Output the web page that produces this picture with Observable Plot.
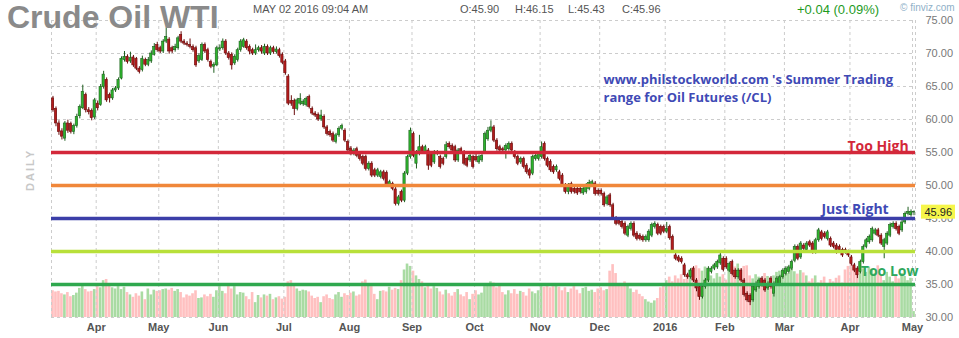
<!DOCTYPE html>
<html><head><meta charset="utf-8">
<script src="https://cdn.jsdelivr.net/npm/d3@7"></script>
<script src="https://cdn.jsdelivr.net/npm/@observablehq/plot@0.6"></script>
<style>
html,body{margin:0;padding:0;background:#fff;}
#wrap{position:relative;width:959px;height:338px;overflow:hidden;background:#fff;}
#wrap svg{position:absolute;left:0;top:0;}
</style></head><body><div id="wrap"></div>
<script>
// ---- data (daily candles, index 0 = mid-March 2015, last = May 02 2016) ----
const openP = [
63.2,61.6,59.4,58.2,57.1,59.4,59.3,58.1,59.0,60.5,
61.7,63.7,61.4,61.3,60.3,62.4,62.2,64.9,66.0,63.7,
63.2,64.4,64.7,66.2,69.0,69.5,68.8,69.4,69.2,67.7,
67.5,69.0,68.3,68.8,69.8,71.3,70.8,70.3,71.8,72.1,
70.8,70.5,70.8,72.8,71.8,71.5,71.3,71.0,70.8,68.8,
69.0,71.3,70.5,68.7,68.0,68.2,70.6,70.8,71.8,70.0,
69.8,68.5,69.0,70.5,71.0,71.8,71.0,70.5,70.0,70.5,
70.8,70.0,71.0,70.0,70.8,70.2,70.5,69.8,68.8,66.5,
62.8,62.8,61.6,62.4,62.3,62.2,63.4,61.6,60.9,60.7,
60.0,60.4,58.8,58.1,57.8,56.6,57.6,58.6,58.3,56.6,
55.6,54.8,55.5,54.8,54.3,54.3,52.5,53.3,52.3,51.5,
51.3,52.0,51.9,50.0,50.2,49.4,47.2,49.0,47.7,51.8,
54.3,57.8,53.3,54.8,55.8,55.0,55.3,54.8,53.5,54.8,
54.3,54.0,54.3,56.3,56.0,55.8,53.8,55.5,55.0,54.0,
53.8,54.3,54.3,53.5,53.8,55.0,57.0,58.3,58.8,56.8,
55.8,55.5,55.3,55.5,56.3,55.0,54.3,53.5,54.0,53.0,
52.3,51.8,54.0,54.0,54.3,56.3,54.0,53.6,52.8,52.3,
52.0,51.5,50.0,49.0,50.2,49.5,49.5,49.5,48.8,49.0,
49.5,50.0,50.3,49.2,49.2,48.7,47.2,48.5,47.0,45.0,
44.7,44.5,44.2,42.4,43.4,44.2,42.7,42.4,42.2,41.7,
41.7,42.4,43.7,44.0,43.7,43.7,43.0,43.7,42.2,39.4,
39.1,38.9,37.9,36.4,36.1,37.4,35.6,34.6,33.1,34.6,
35.6,36.9,37.4,37.6,38.2,38.9,38.9,37.1,38.4,37.1,
36.1,37.1,35.6,33.6,33.3,32.6,34.1,34.6,35.9,35.6,
34.4,35.9,33.6,35.1,35.1,36.1,36.6,36.9,37.4,38.6,
40.7,39.1,40.9,40.2,41.4,41.2,39.9,41.7,42.9,42.7,
41.9,41.9,41.2,40.9,40.7,40.2,40.2,39.9,39.1,37.9,
37.4,36.9,38.4,40.7,41.4,41.7,42.7,43.2,42.4,40.7,
41.2,42.4,43.7,44.2,43.7,43.2,44.4,45.7,45.5,45.90];
const highP = [
63.5,61.9,59.8,58.6,59.7,59.9,59.6,59.3,60.8,62.2,
65.2,64.0,61.8,61.6,63.2,62.8,65.3,67.3,66.3,64.0,
64.7,65.0,66.3,69.5,70.3,69.8,70.2,69.7,69.4,68.0,
69.6,69.3,69.4,70.4,71.5,71.7,71.1,72.1,73.8,72.4,
71.1,71.4,72.6,73.3,72.1,71.8,72.2,71.3,71.1,70.0,
71.6,71.6,70.8,69.0,68.6,71.1,71.3,72.2,72.1,70.3,
70.1,69.8,70.8,72.1,72.3,72.1,71.3,70.8,71.3,71.1,
71.2,71.4,71.3,71.1,71.1,71.0,70.8,70.1,69.1,66.8,
63.6,63.1,63.2,63.9,63.0,63.4,63.7,61.9,61.2,61.0,
61.4,60.7,59.1,58.4,58.1,57.9,58.9,59.3,58.6,56.9,
55.9,55.6,55.8,55.1,54.6,54.6,53.6,53.6,52.6,52.6,
52.3,52.3,52.2,50.8,50.5,49.7,48.5,49.3,52.1,54.6,
58.7,58.1,55.3,57.6,56.1,56.1,55.6,55.1,55.3,55.3,
54.6,54.3,56.6,56.6,56.3,56.1,55.6,55.8,55.3,54.3,
54.8,54.6,55.0,54.6,54.8,58.1,58.8,59.8,59.1,57.1,
56.1,55.8,56.3,56.6,56.6,55.3,54.6,54.3,54.3,53.3,
52.6,54.6,54.8,55.1,56.6,56.6,54.3,53.9,53.1,53.1,
52.3,51.8,50.3,50.3,50.5,49.8,49.8,49.8,49.8,50.3,
50.8,50.8,50.6,49.5,49.5,49.0,48.5,48.8,47.3,45.3,
45.0,44.8,44.5,44.0,44.5,44.5,43.0,42.7,42.5,42.5,
43.3,44.3,44.5,44.3,44.0,44.0,44.4,44.0,42.5,39.7,
39.4,39.2,38.2,36.7,37.4,37.7,35.9,34.9,34.9,35.9,
37.7,37.7,38.2,38.7,39.9,39.2,39.2,38.4,38.7,37.4,
37.4,37.4,35.9,33.9,33.6,34.9,35.4,35.9,36.2,35.9,
35.4,36.2,35.4,36.2,36.4,37.4,37.7,37.9,38.7,41.0,
41.0,41.5,41.2,41.5,41.7,41.5,42.0,43.5,43.2,43.0,
43.2,42.2,41.5,41.2,41.0,40.5,40.5,40.2,39.4,38.2,
37.7,38.7,41.0,42.0,42.5,43.7,43.5,43.5,42.7,42.0,
43.0,44.3,44.5,44.5,44.0,44.7,46.0,46.7,46.3,46.15];
const lowP = [
61.1,58.9,57.6,56.9,56.7,57.9,57.8,57.7,58.7,60.1,
61.5,61.0,60.7,59.8,60.0,61.3,62.0,64.6,62.6,62.5,
62.9,64.1,64.4,66.0,68.7,68.4,68.5,67.9,67.4,66.9,
67.2,68.0,68.0,68.5,69.6,70.2,70.0,70.0,71.5,69.9,
70.0,70.2,70.5,71.5,71.2,71.0,70.7,70.2,67.9,68.5,
68.8,70.0,68.7,67.7,67.0,68.0,70.3,70.5,69.7,69.0,
67.5,68.2,68.7,70.2,70.8,70.5,69.8,69.7,69.7,70.2,
69.9,69.7,69.7,69.7,69.9,69.9,69.3,68.3,66.7,62.1,
62.0,60.6,61.3,62.1,62.0,61.9,61.6,60.6,60.3,59.7,
59.7,58.5,57.5,57.3,56.5,56.3,57.3,58.3,56.5,55.0,
54.5,54.5,54.2,53.7,53.0,52.2,52.2,51.2,51.2,51.2,
51.0,50.7,49.7,49.7,49.2,46.9,46.9,47.4,47.4,51.5,
54.0,54.2,52.5,54.5,54.7,54.7,52.3,52.7,53.2,54.5,
52.5,53.0,54.0,55.5,55.0,53.5,53.5,54.7,53.0,52.7,
53.5,52.5,53.5,53.2,53.5,54.7,56.7,58.0,56.5,55.2,
55.0,55.0,54.0,55.2,55.0,54.0,53.0,53.2,52.5,51.7,
51.0,51.5,53.7,53.7,54.0,53.7,52.7,52.0,51.7,52.0,
50.7,49.7,48.7,48.6,48.7,48.7,48.5,48.7,48.5,48.7,
49.2,49.7,48.4,48.4,48.4,46.7,46.9,46.7,44.7,43.9,
43.9,43.4,42.4,42.1,43.1,42.1,41.6,41.6,41.4,41.4,
41.4,42.1,43.4,42.4,42.4,42.7,42.7,41.7,39.7,38.6,
38.3,38.1,36.1,35.8,35.8,35.3,33.9,32.6,32.8,34.3,
35.3,36.6,37.1,37.3,37.9,36.9,37.3,36.8,36.3,35.8,
35.8,35.3,33.1,32.3,31.8,32.3,33.8,34.3,34.6,33.8,
34.1,34.3,33.1,34.8,34.8,35.8,36.3,36.6,37.1,38.3,
38.6,38.8,40.1,39.9,40.6,39.6,39.6,41.4,41.6,41.9,
41.6,40.6,40.4,39.6,39.9,39.1,39.6,39.1,37.8,36.8,
35.9,36.6,38.1,40.4,41.1,41.4,42.4,42.1,40.9,38.9,
40.9,42.1,43.4,43.1,42.4,42.9,44.1,45.4,45.2,45.43];
const closeP = [
61.4,59.4,58.1,57.4,59.4,58.3,58.1,59.0,60.4,61.9,
64.2,61.4,61.1,60.2,62.9,61.7,64.9,66.8,62.9,63.2,
64.4,64.7,66.0,69.2,69.5,68.7,69.3,68.2,67.7,67.2,
69.2,68.3,69.0,70.0,71.0,70.5,70.3,71.8,72.5,70.3,
70.3,71.0,72.3,71.8,71.5,71.3,71.0,70.5,68.2,69.6,
71.3,70.3,69.0,68.0,68.3,70.8,70.8,71.8,70.0,69.3,
68.2,69.5,70.5,71.8,72.0,70.8,70.3,70.0,70.5,70.8,
70.3,71.0,70.0,70.8,70.2,70.6,69.6,68.6,67.0,62.4,
62.4,61.6,62.9,63.1,62.7,63.1,61.9,60.9,60.6,60.0,
60.6,58.8,57.8,57.6,56.8,57.6,58.6,59.0,56.8,55.3,
54.8,55.3,54.5,54.0,53.3,52.5,53.3,51.5,51.5,52.3,
52.0,51.0,50.0,50.5,49.5,47.2,48.2,47.7,51.8,54.3,
58.3,54.5,55.0,55.8,55.0,55.8,53.0,53.0,55.0,55.0,
52.8,53.3,56.1,55.8,55.3,53.8,55.3,55.0,53.3,53.0,
54.5,52.8,53.8,54.3,54.5,57.8,58.3,58.8,56.8,55.5,
55.3,55.3,56.0,56.3,55.3,54.3,53.3,54.0,52.8,52.0,
51.5,54.3,54.5,54.8,55.8,54.0,53.0,52.3,52.0,52.8,
51.0,50.0,49.0,50.0,49.0,49.0,48.8,49.0,49.5,50.0,
50.4,50.5,48.7,48.7,48.7,47.0,48.2,47.0,45.0,44.2,
44.2,43.7,42.7,43.7,44.2,42.4,41.9,41.9,41.7,42.2,
43.0,44.0,44.2,42.7,42.7,43.0,43.4,42.0,40.0,38.9,
38.6,38.4,36.4,36.1,37.1,35.6,34.4,33.1,34.6,35.6,
37.4,37.4,37.9,38.4,39.4,37.2,37.6,38.1,36.6,36.1,
37.1,35.6,33.4,32.6,32.3,34.6,35.1,35.6,34.9,34.1,
35.1,34.6,35.1,35.9,36.1,37.1,37.4,37.6,38.4,40.7,
38.9,41.2,40.4,41.2,40.9,39.9,41.7,43.2,41.9,42.2,
42.9,40.9,40.7,40.2,40.2,39.4,39.9,39.4,38.1,37.1,
36.4,38.4,40.7,41.7,42.2,43.4,43.2,42.4,41.2,41.7,
42.7,44.0,44.2,43.4,42.7,44.4,45.7,46.0,46.0,45.96];
// volume, thousand contracts
const volume = [
450,430,440,400,380,420,350,370,410,490,
540,470,430,440,470,520,500,620,640,560,
500,480,520,470,510,420,380,340,400,360,
430,300,480,380,460,440,450,470,480,460,
490,440,470,420,330,380,360,400,450,320,
330,380,350,390,340,450,520,440,400,540,
480,520,380,420,410,350,300,420,250,370,
330,380,360,390,300,330,350,310,340,600,
620,560,480,440,460,450,430,360,320,340,
250,350,380,320,300,380,420,340,400,370,
410,430,360,380,600,630,560,520,390,300,
440,450,430,510,460,490,470,620,800,900,
860,780,700,640,600,500,540,480,520,490,
430,380,460,400,360,420,470,380,350,420,
300,390,450,380,410,520,560,600,580,500,
540,420,380,450,400,470,390,440,420,360,
480,430,400,450,520,510,530,500,520,540,
510,450,500,420,480,520,460,400,490,510,
440,460,420,480,500,450,470,780,890,740,
560,520,600,540,480,420,460,390,350,300,
260,240,280,320,500,560,620,680,600,700,
650,720,640,690,800,840,870,820,780,850,
760,700,650,740,680,720,630,830,880,850,
900,820,860,870,700,650,720,680,620,740,
690,660,700,760,780,720,800,740,820,770,
730,790,750,700,600,650,700,580,620,680,
560,640,600,660,700,580,800,860,900,840,
780,880,820,760,850,800,740,870,700,620,
760,680,600,720,650,740,690,620,660,100];

const monthTicks  = [15,36,56,78,100,121,142,164,184,206,226,246,268,289];
const monthLabels = ["Apr","May","Jun","Jul","Aug","Sep","Oct","Nov","Dec","2016","Feb","Mar","Apr","May"];
const priceTicks  = [30,35,40,45,50,55,60,65,70,75];
const levelValues = [55,50,45,40,35];
const noteLines   = ["www.philstockworld.com 's Summer Trading", "range for Oil Futures (/CL)"];
const levelLabels = ["Too High", "Just Right", "Too Low"];
const titleText   = "Crude Oil WTI";
const dateText    = "MAY 02 2016 09:04 AM";
const ohlcLabels  = ["O:45.90", "H:46.15", "L:45.43", "C:45.96"];
const changeText  = "+0.04 (0.09%)";
const lastPrice   = 45.96;

// ---- styles ----
const levelColors = ["#d3283a", "#f0873a", "#3b3ea8", "#b8e03a", "#2fa84e"];
const W = 959, H = 338;
const common = {
  width: W, height: H, marginLeft: 51, marginRight: 44, marginTop: 20, marginBottom: 21,
  style: {background: "transparent", fontFamily: "'Liberation Sans', Arial, sans-serif", fontSize: "11px", overflow: "visible"}
};

const bars = closeP.map((c, i) => ({i, open: openP[i], high: highP[i], low: lowP[i], close: c, vol: volume[i], up: c >= openP[i]}));
const upBars = bars.filter(d => d.up), dnBars = bars.filter(d => !d.up);
const N = bars.length;

const volPlot = Plot.plot({
  ...common,
  x: {domain: [0, N], axis: null},
  y: {domain: [0, 5000], axis: null},
  marks: [
    Plot.rect(upBars, {x1: d => d.i + 0.06, x2: d => d.i + 0.94, y1: 0, y2: "vol", fill: "#a9dba3"}),
    Plot.rect(dnBars, {x1: d => d.i + 0.06, x2: d => d.i + 0.94, y1: 0, y2: "vol", fill: "#ffc0c0"})
  ]
});

const noteFont = "'Open Sans', 'DejaVu Sans', sans-serif";
const pricePlot = Plot.plot({
  ...common,
  x: {domain: [0, N]},
  y: {domain: [30, 75]},
  marks: [
    Plot.ruleY(priceTicks, {stroke: "#cccccc", strokeDasharray: "3,3"}),
    Plot.ruleX(monthTicks, {stroke: "#cccccc", strokeDasharray: "3,3"}),
    Plot.ruleX([0, N], {stroke: "#cccccc", strokeDasharray: "3,3"}),
    Plot.ruleX(upBars, {x: d => d.i + 0.5, y1: "low", y2: "high", stroke: "#1e5e1e"}),
    Plot.ruleX(dnBars, {x: d => d.i + 0.5, y1: "low", y2: "high", stroke: "#6a0c0c"}),
    Plot.rect(upBars, {x1: d => d.i + 0.12, x2: d => d.i + 0.88, y1: "open", y2: "close", fill: "#2db52d", stroke: "#1e5e1e", strokeWidth: 0.6}),
    Plot.rect(dnBars, {x1: d => d.i + 0.12, x2: d => d.i + 0.88, y1: "open", y2: "close", fill: "#b31c1c", stroke: "#6a0c0c", strokeWidth: 0.6}),
    ...levelValues.map((v, k) => Plot.ruleY([v], {stroke: levelColors[k], strokeWidth: 3.5})),
    Plot.text([noteLines[0]], {x: 185.3, y: 66.05, text: d => d, textAnchor: "start", fill: "#3f4ab5", fontSize: 13, fontWeight: "bold", fontFamily: noteFont}),
    Plot.text([noteLines[1]], {x: 185.3, y: 63.25, text: d => d, textAnchor: "start", fill: "#3f4ab5", fontSize: 13, fontWeight: "bold", fontFamily: noteFont}),
    Plot.text([levelLabels[0]], {x: 287.7, y: 55.9, text: d => d, textAnchor: "end", fill: "#d3283a", fontSize: 14, fontWeight: "bold", fontFamily: noteFont}),
    Plot.text([levelLabels[1]], {x: 281.0, y: 46.35, text: d => d, textAnchor: "end", fill: "#3f4ab5", fontSize: 14, fontWeight: "bold", fontFamily: noteFont}),
    Plot.text([levelLabels[2]], {x: 291.0, y: 36.9, text: d => d, textAnchor: "end", fill: "#2ea85c", fontSize: 14, fontWeight: "bold", fontFamily: noteFont}),
    Plot.axisY({anchor: "right", ticks: priceTicks, tickFormat: d => d.toFixed(2), tickSize: 0, tickPadding: 10, label: null, fill: "#777"}),
    Plot.axisX({ticks: monthTicks, tickFormat: d => monthLabels[monthTicks.indexOf(d)], tickSize: 0, tickPadding: 6, label: null, fill: "#555", fontWeight: "bold"})
  ]
});

const wrap = document.getElementById("wrap");
wrap.appendChild(volPlot);
wrap.appendChild(pricePlot);

// overlay: header texts, DAILY, last price tag
const ov = d3.select(wrap).append("svg").attr("width", W).attr("height", H)
  .style("font-family", "'Liberation Sans', Arial, sans-serif");
ov.append("text").attr("x", 7).attr("y", 28).attr("font-size", 32).attr("font-weight", "bold").attr("fill", "#8a8a8a").text(titleText);
ov.append("text").attr("x", 253).attr("y", 13).attr("font-size", 11).attr("fill", "#555").text(dateText);
[460, 515, 568, 622].forEach((x, k) => ov.append("text").attr("x", x).attr("y", 13).attr("font-size", 11).attr("fill", "#555").text(ohlcLabels[k]));
ov.append("text").attr("x", 797).attr("y", 13.5).attr("font-size", 13).attr("fill", "#1e9a1e").text(changeText);
ov.append("text").attr("x", 900).attr("y", 11).attr("font-size", 10).attr("fill", "#8fb0c8").text("\u00a9 finviz.com");
ov.append("text").attr("transform", "translate(34,170) rotate(-90)").attr("text-anchor", "middle")
  .attr("font-size", 11).attr("font-weight", "bold").attr("letter-spacing", 2).attr("fill", "#c8c8c8").text("DAILY");
const yPx = pricePlot.scale("y").apply(lastPrice);
ov.append("rect").attr("x", 921).attr("y", yPx - 7).attr("width", 34).attr("height", 14).attr("fill", "#f6f64a");
ov.append("text").attr("x", 924.5).attr("y", yPx + 4).attr("font-size", 11).attr("fill", "#222").text(lastPrice.toFixed(2));
</script></body></html>
